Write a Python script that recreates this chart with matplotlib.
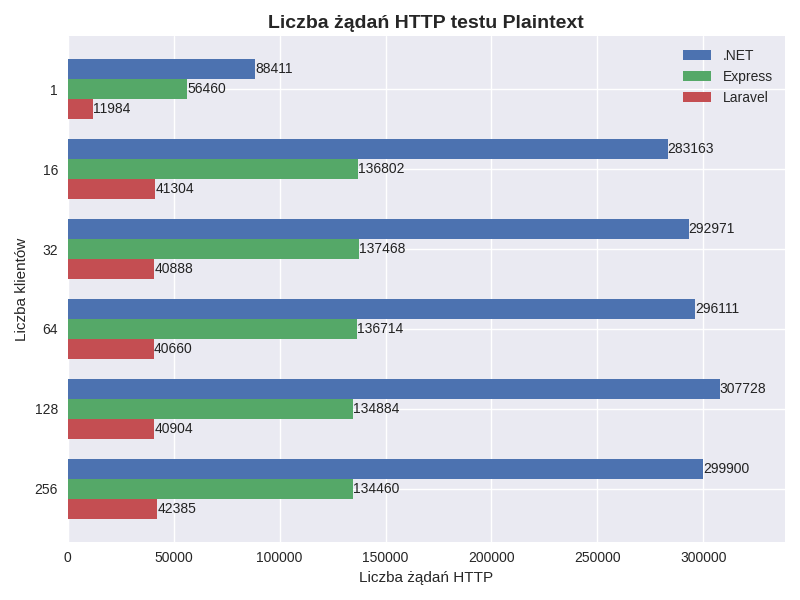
import matplotlib

matplotlib.use("Agg")
import matplotlib.pyplot as plt  # noqa: E402
import numpy as np  # noqa: E402

CLIENTS = ["1", "16", "32", "64", "128", "256"]
DOTNET = [88411, 283163, 292971, 296111, 307728, 299900]
EXPRESS = [56460, 136802, 137468, 136714, 134884, 134460]
LARAVEL = [11984, 41304, 40888, 40660, 40904, 42385]
SERIES = [(".NET", DOTNET, "#4C72B0"), ("Express", EXPRESS, "#55A868"), ("Laravel", LARAVEL, "#C44E52")]


def main() -> None:
    plt.style.use("seaborn-v0_8")
    plt.rcParams["font.family"] = ["Liberation Sans", "DejaVu Sans"]
    fig, ax = plt.subplots(figsize=(8, 6), dpi=100)

    y = np.arange(len(CLIENTS))
    height = 0.25
    for i, (name, values, color) in enumerate(SERIES):
        pos = y + (i - 1) * height
        ax.barh(pos, values, height, label=name, color=color)
        for p, v in zip(pos, values):
            ax.text(v, p, str(v), va="center", ha="left", fontsize=10, color="#222222")

    ax.set_yticks(y)
    ax.set_yticklabels(CLIENTS)
    ax.invert_yaxis()
    ax.set_xlim(0, max(DOTNET) * 1.1)
    ax.tick_params(labelsize=10)
    ax.set_xlabel("Liczba żądań HTTP", fontsize=11)
    ax.set_ylabel("Liczba klientów", fontsize=11)
    ax.set_title("Liczba żądań HTTP testu Plaintext", fontsize=14, fontweight="bold")
    ax.legend(loc="upper right", fontsize=10)

    fig.tight_layout()
    fig.savefig("out.png", dpi=100)
    plt.close(fig)


if __name__ == "__main__":
    main()
